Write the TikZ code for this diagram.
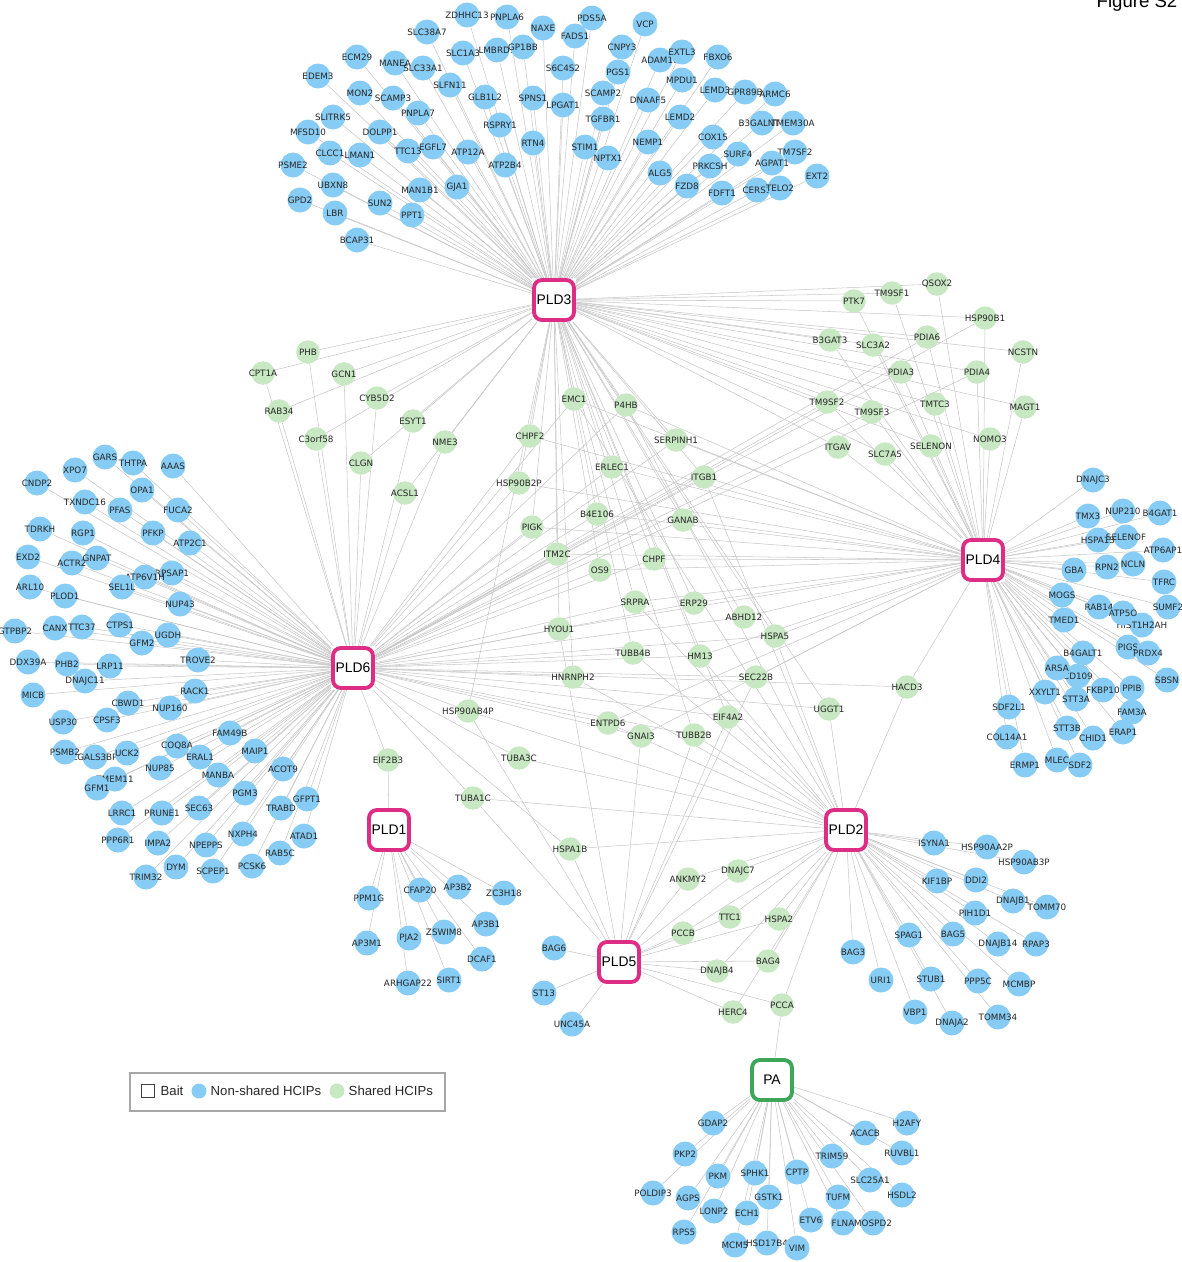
\documentclass[tikz,border=0pt]{standalone}
\usepackage{fontspec}
\setmainfont{Liberation Sans}
\newfontfamily\labelfont{DejaVu Sans}
\usetikzlibrary{backgrounds,positioning}

\definecolor{baitpink}{RGB}{221,45,132}
\definecolor{pagreen}{RGB}{62,166,88}
\definecolor{preyblue}{RGB}{135,204,244}
\definecolor{sharedgreen}{RGB}{199,232,194}

\def\pldthreeprey{ZDHHC13/467/15, PNPLA6/507/17, NAXE/543/28, SLC38A7/427/32, PDS5A/592/18,
  VCP/645/24, FADS1/575/36, SLC1A3/463/53, LMBRD1/497/50, GP1BB/523/47, CNPY3/622/47,
  ADAM10/660/60, EXTL3/682/52, FBXO6/718/57, ECM29/357/57, MANEA/395/63, SLC33A1/423/68,
  S6C4S2/563/68, PGS1/618/72, EDEM3/318/76, SLFN11/450/85, MPDU1/682/80, LEMD3/715/90,
  GPR89B/745/92, ARMC6/775/94, MON2/360/93, SCAMP3/393/98, GLB1L2/485/97, SPNS1/533/98,
  SCAMP2/603/93, DNAAF5/648/100, LPGAT1/563/105, PNPLA7/418/113, SLITRK5/333/117,
  TGFBR1/603/119, LEMD2/680/117, B3GALNT1/762/123, TMEM30A/793/123, RSPRY1/500/125,
  DOLPP1/380/132, MFSD10/308/132, RTN4/533/143, STIM1/585/147, NEMP1/648/142, COX15/713/137,
  EGFL7/433/147, TTC13/408/151, ATP12A/468/152, CLCC1/330/153, LMAN1/360/155, NPTX1/608/158,
  SURF4/738/154, TM7SF2/795/152, PSME2/293/165, ATP2B4/505/165, PRKCSH/710/166,
  AGPAT1/772/163, ALG5/660/173, EXT2/817/176, UBXN8/333/185, GJA1/457/187, MAN1B1/420/190,
  FZD8/687/186, CERS1/757/190, TELO2/780/188, FDFT1/722/193, GPD2/300/200, SUN2/380/203,
  LBR/335/213, PPT1/412/215, BCAP31/357/240}
\def\pldfourprey{DNAJC3/1093/480, TMX3/1088/516, NUP210/1123/511, B4GAT1/1160/513,
  HSPA13/1098/540, SELENOF/1126/537, ATP6AP1/1163/550, GBA/1074/570, RPN2/1107/567,
  NCLN/1133/564, TFRC/1164/582, MOGS/1062/595, RAB14/1099/607, SUMF2/1168/607,
  HIST1H2AH/1142/625, ATP5O/1123/613, TMED1/1064/620, PIGS/1128/647, PRDX4/1148/653,
  B4GALT1/1083/653, CD109/1078/676, ARSA/1057/668, FKBP10/1103/690, PPIB/1132/688,
  SBSN/1167/680, XXYLT1/1045/692, STT3A/1076/699, SDF2L1/1009/707, FAM3A/1132/712,
  COL14A1/1007/737, STT3B/1067/728, CHID1/1093/738, ERAP1/1123/732, ERMP1/1025/765,
  MLEC/1057/760, SDF2/1080/765}
\def\pldsixprey{GARS/105/457, THTPA/133/463, XPO7/75/470, AAAS/173/466, CNDP2/37/483,
  OPA1/142/490, TXNDC16/85/502, PFAS/120/510, FUCA2/178/510, TDRKH/40/529, RGP1/83/533,
  PFKP/153/533, ATP2C1/190/543, EXD2/28/557, ACTR2/72/563, GNPAT/97/558, RPSAP1/172/573,
  ATP6V1H/145/577, SEL1L/122/587, ARL10/30/587, PLOD1/65/596, NUP43/180/604, GTPBP2/15/631,
  CANX/55/628, TTC37/82/627, CTPS1/120/625, UGDH/168/635, GFM2/142/643, DDX39A/28/662,
  PHB2/67/664, LRP11/110/666, TROVE2/198/660, DNAJC11/85/681, MICB/33/695, RACK1/195/691,
  CBWD1/128/703, NUP160/170/708, USP30/63/722, CPSF3/107/720, FAM49B/230/733,
  LGALS3BP/95/757, PSMB2/65/752, UCK2/127/753, COQ8A/177/746, ERAL1/200/757, MAIP1/255/751,
  NUP85/160/768, TMEM11/115/779, GFM1/97/788, MANBA/218/775, ACOT9/283/769, PGM3/245/793,
  GFPT1/307/799, LRRC1/122/813, PRUNE1/162/813, SEC63/199/808, TRABD/281/808, NXPH4/243/834,
  ATAD1/304/836, PPP6R1/118/840, IMPA2/158/843, NPEPPS/206/845, RAB5C/280/853, DYM/176/867,
  PCSK6/252/866, SCPEP1/213/871, TRIM32/146/877}
\def\pldoneprey{PPM1G/369/898, CFAP20/420/890, AP3B2/458/887, ZC3H18/504/893,
  AP3B1/486/924, AP3M1/367/943, PJA2/409/938, ZSWIM8/444/932, DCAF1/482/959,
  ARHGAP22/408/983, SIRT1/449/980}
\def\pldfiveprey{BAG6/554/948, ST13/544/993, UNC45A/572/1024}
\def\pldtwoprey{ISYNA1/934/843, HSP90AA2P/987/847, HSP90AB3P/1024/862, KIF1BP/937/881,
  DDI2/976/880, DNAJB1/1013/901, TOMM70/1047/907, PIH1D1/975/913, SPAG1/909/935,
  BAG5/953/934, DNAJB14/998/944, RPAP3/1036/944, BAG3/853/952, URI1/881/980,
  STUB1/931/979, PPP5C/978/981, MCMBP/1019/984, VBP1/915/1012, TOMM34/998/1017,
  DNAJA2/952/1023}
\def\paprey{H2AFY/907/1123, GDAP2/713/1123, ACACB/865/1133, PKP2/685/1154,
  RUVBL1/902/1153, TRIM59/832/1156, PKM/718/1176, SPHK1/755/1173, CPTP/797/1172,
  SLC25A1/870/1180, POLDIP3/653/1193, AGPS/688/1198, GSTK1/769/1197, TUFM/838/1197,
  HSDL2/902/1195, LONP2/714/1211, ECH1/747/1213, ETV6/811/1220, FLNA/843/1223,
  MOSPD2/873/1223, RPS5/684/1232, MCM5/735/1245, HSD17B4/767/1243, VIM/797/1248}
% shared HCIPs, with the baits they were found with
\def\sharedprey{PHB/308/352/{PLD3,PLD6}, CPT1A/263/373/{PLD3,PLD6},
  GCN1/344/374/{PLD3,PLD6}, RAB34/279/411/{PLD3,PLD6}, CYB5D2/377/398/{PLD3,PLD6},
  ESYT1/413/421/{PLD3,PLD6}, C3orf58/316/439/{PLD3,PLD6}, NME3/445/442/{PLD3,PLD6},
  CLGN/361/463/{PLD3,PLD6}, ACSL1/405/493/{PLD3,PLD6},
  EMC1/574/399/{PLD3,PLD6,PLD4,PLD2}, P4HB/626/405/{PLD3,PLD6,PLD4,PLD2},
  CHPF2/530/436/{PLD3,PLD6,PLD4}, SERPINH1/676/440/{PLD3,PLD6,PLD4},
  ERLEC1/612/467/{PLD3,PLD6,PLD4}, HSP90B2P/519/483/{PLD3,PLD6,PLD4},
  ITGB1/704/477/{PLD3,PLD6,PLD4,PLD2}, B4E106/597/514/{PLD3,PLD6,PLD4},
  GANAB/683/520/{PLD3,PLD6,PLD4}, PIGK/532/527/{PLD3,PLD6,PLD4},
  ITM2C/557/554/{PLD3,PLD6,PLD4}, CHPF/654/559/{PLD3,PLD6,PLD4},
  OS9/600/570/{PLD3,PLD6,PLD4}, SRPRA/635/602/{PLD3,PLD6,PLD4,PLD2},
  ERP29/694/603/{PLD3,PLD6,PLD4}, ABHD12/744/617/{PLD3,PLD6,PLD4},
  HYOU1/559/629/{PLD3,PLD6,PLD4,PLD5}, HSPA5/775/636/{PLD3,PLD6,PLD4,PLD2},
  TUBB4B/633/653/{PLD3,PLD6,PLD2}, HM13/700/656/{PLD3,PLD6,PLD4,PLD2},
  HNRNPH2/573/677/{PLD3,PLD6,PLD2}, SEC22B/756/677/{PLD6,PLD4,PLD5},
  HACD3/907/687/{PLD6,PLD4,PLD2}, HSP90AB4P/468/711/{PLD3,PLD6,PLD2,PLD5},
  UGGT1/829/709/{PLD3,PLD6,PLD2}, EIF4A2/728/717/{PLD3,PLD6,PLD2,PLD5},
  ENTPD6/608/723/{PLD6,PLD4,PLD2}, GNAI3/641/736/{PLD6,PLD4,PLD5},
  TUBB2B/694/735/{PLD3,PLD6,PLD2,PLD5}, EIF2B3/388/760/{PLD6,PLD1},
  TUBA3C/519/758/{PLD6,PLD2}, TUBA1C/473/798/{PLD6,PLD2,PLD5},
  HSPA1B/570/849/{PLD6,PLD2,PLD5}, ANKMY2/688/879/{PLD2,PLD5}, DNAJC7/738/871/{PLD2,PLD5},
  TTC1/730/917/{PLD2,PLD5}, HSPA2/779/919/{PLD2,PLD5}, PCCB/683/933/{PLD2,PLD5},
  DNAJB4/717/971/{PLD2,PLD5}, BAG4/768/961/{PLD2,PLD5}, HERC4/733/1012/{PLD2,PLD5},
  PCCA/782/1005/{PLD2,PLD5,PA},
  PTK7/854/301/{PLD3,PLD4}, TM9SF1/892/293/{PLD3,PLD4}, QSOX2/937/284/{PLD3,PLD4},
  HSP90B1/985/318/{PLD3,PLD4,PLD6}, B3GAT3/830/340/{PLD3,PLD4},
  PDIA6/927/337/{PLD3,PLD4,PLD6}, SLC3A2/873/345/{PLD3,PLD4}, NCSTN/1023/352/{PLD3,PLD4},
  PDIA3/901/372/{PLD3,PLD4,PLD6}, PDIA4/977/372/{PLD3,PLD4,PLD6},
  TM9SF2/827/402/{PLD3,PLD4,PLD6}, TMTC3/935/404/{PLD3,PLD4}, MAGT1/1025/407/{PLD3,PLD4},
  TM9SF3/872/412/{PLD3,PLD4,PLD6}, NOMO3/990/439/{PLD3,PLD4}, ITGAV/838/447/{PLD3,PLD4},
  SELENON/931/446/{PLD3,PLD4}, SLC7A5/885/454/{PLD3,PLD4}}

\begin{document}
\begin{tikzpicture}[x=0.02cm, y=-0.02cm,
  bait/.style={rectangle, rounded corners=4.5pt, draw=baitpink, line width=2.2pt, fill=white,
    minimum size=0.8cm, inner sep=0pt, font=\fontsize{7.9}{8}\selectfont},
  pabait/.style={bait, draw=pagreen},
  prey/.style={circle, fill=preyblue, minimum size=0.5cm, inner sep=0pt, text=black!85,
    font=\labelfont\fontsize{5}{5}\selectfont},
  shared/.style={prey, fill=sharedgreen, minimum size=0.47cm},
  edge/.style={draw=black!22, line width=0.3pt}]
    \useasboundingbox (0,0) rectangle (1181,1262);

    \node[bait] (PLD3) at (554,300) {PLD3};
    \node[bait] (PLD4) at (983,560) {PLD4};
    \node[bait] (PLD6) at (353,668) {PLD6};
    \node[bait] (PLD1) at (389,830) {PLD1};
    \node[bait] (PLD2) at (846,830) {PLD2};
    \node[bait] (PLD5) at (619,962) {PLD5};
    \node[pabait] (PA) at (772,1080) {PA};

    \foreach \n/\x/\y in \pldthreeprey {\node[prey] (\n) at (\x,\y) {\makebox[0pt]{\n}};}
    \foreach \n/\x/\y in \pldfourprey {\node[prey] (\n) at (\x,\y) {\makebox[0pt]{\n}};}
    \foreach \n/\x/\y in \pldsixprey {\node[prey] (\n) at (\x,\y) {\makebox[0pt]{\n}};}
    \foreach \n/\x/\y in \pldoneprey {\node[prey] (\n) at (\x,\y) {\makebox[0pt]{\n}};}
    \foreach \n/\x/\y in \pldfiveprey {\node[prey] (\n) at (\x,\y) {\makebox[0pt]{\n}};}
    \foreach \n/\x/\y in \pldtwoprey {\node[prey] (\n) at (\x,\y) {\makebox[0pt]{\n}};}
    \foreach \n/\x/\y in \paprey {\node[prey] (\n) at (\x,\y) {\makebox[0pt]{\n}};}
    \foreach \n/\x/\y/\bl in \sharedprey {\node[shared] (\n) at (\x,\y) {\makebox[0pt]{\n}};}

    \begin{pgfonlayer}{background}
      \foreach \n/\x/\y in \pldthreeprey {\draw[edge] (PLD3) -- (\n);}
      \foreach \n/\x/\y in \pldfourprey {\draw[edge] (PLD4) -- (\n);}
      \foreach \n/\x/\y in \pldsixprey {\draw[edge] (PLD6) -- (\n);}
      \foreach \n/\x/\y in \pldoneprey {\draw[edge] (PLD1) -- (\n);}
      \foreach \n/\x/\y in \pldfiveprey {\draw[edge] (PLD5) -- (\n);}
      \foreach \n/\x/\y in \pldtwoprey {\draw[edge] (PLD2) -- (\n);}
      \foreach \n/\x/\y in \paprey {\draw[edge] (PA) -- (\n);}
      \foreach \n/\x/\y/\bl in \sharedprey {
        \foreach \b in \bl {\draw[edge] (\b) -- (\n);}
      }
    \end{pgfonlayer}

    % legend
    \node[draw=black!35, line width=0.7pt, minimum width=6.3cm, minimum height=0.76cm] (legend) at (287.5,1092) {};
    \node[draw=black!75, line width=0.6pt, minimum size=0.26cm, inner sep=0pt] (legbait) at (148,1091) {};
    \node[right=3pt of legbait, inner sep=0pt, text=black!85, font=\fontsize{7.5}{8}\selectfont] (legbaittxt) {Bait};
    \node[circle, fill=preyblue, minimum size=0.3cm, inner sep=0pt] (legprey) at (199,1091) {};
    \node[right=2pt of legprey, inner sep=0pt, text=black!85, font=\fontsize{7.5}{8}\selectfont] (legpreytxt) {Non-shared HCIPs};
    \node[circle, fill=sharedgreen, minimum size=0.3cm, inner sep=0pt] (legshared) at (337,1091) {};
    \node[right=2pt of legshared, inner sep=0pt, text=black!85, font=\fontsize{7.5}{8}\selectfont] (legsharedtxt) {Shared HCIPs};

    \node[anchor=base, inner sep=0pt, font=\fontsize{10.6}{11}\selectfont] (figlabel) at (1137,7) {Figure S2};
\end{tikzpicture}
\end{document}
